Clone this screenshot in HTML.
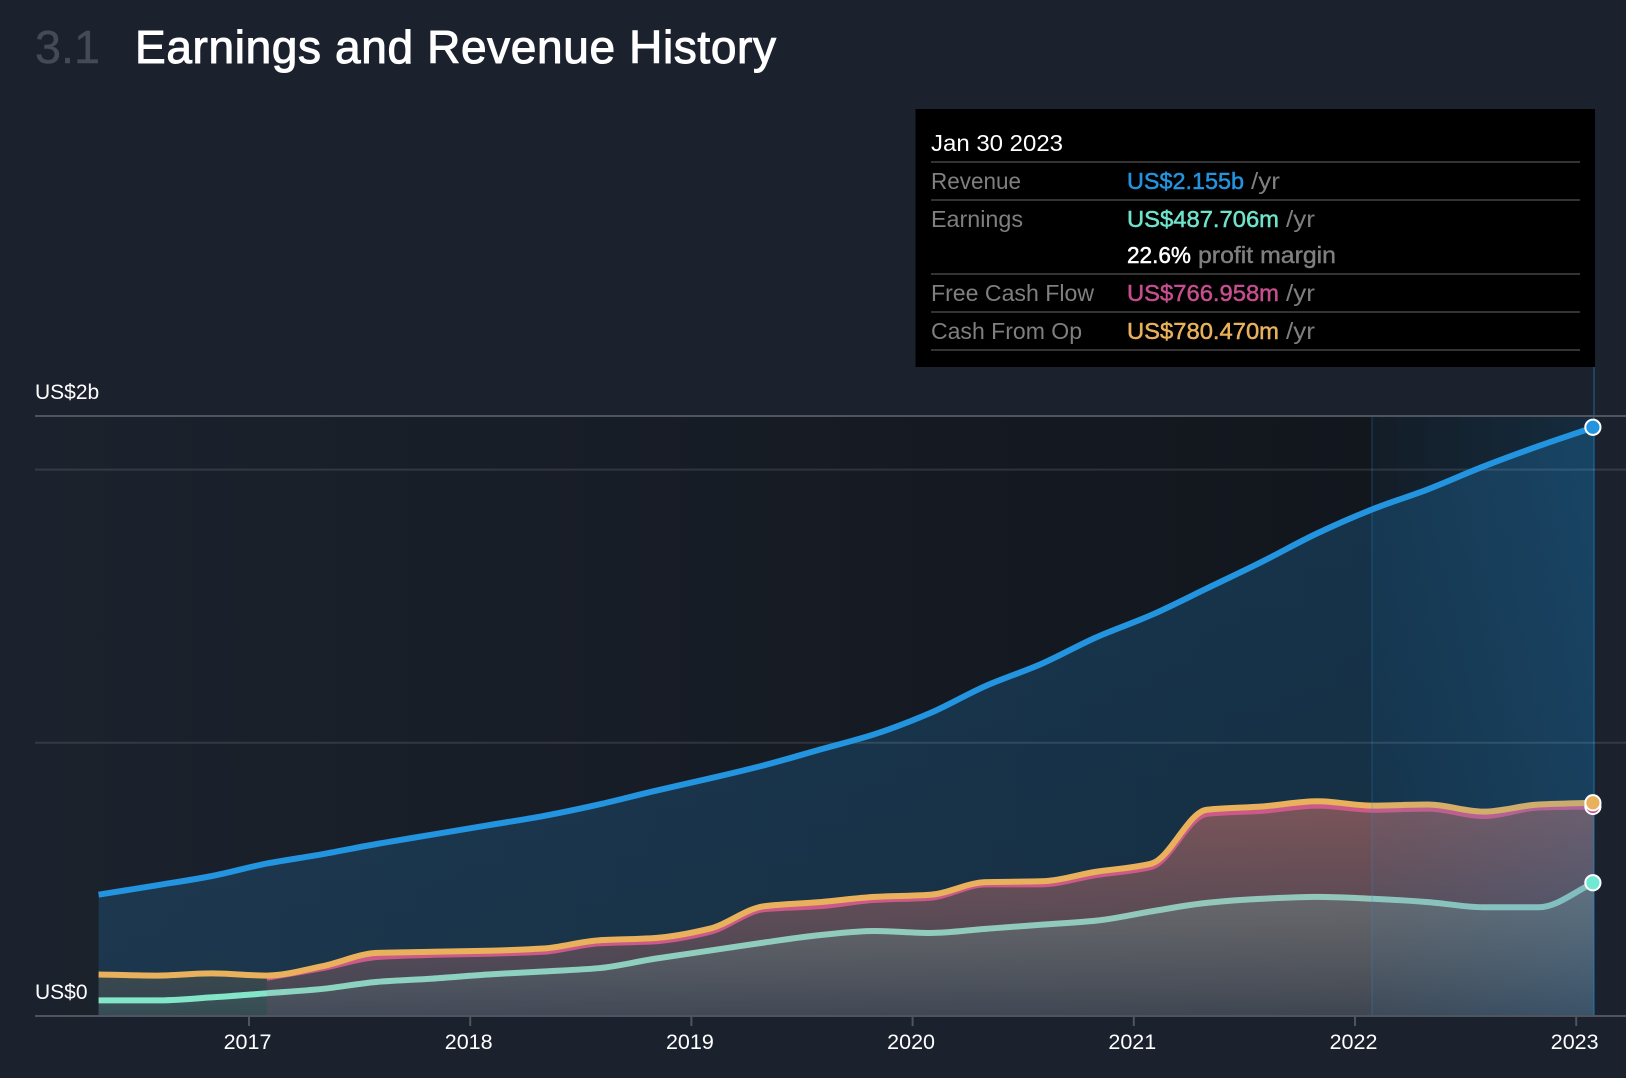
<!DOCTYPE html>
<html lang="en">
<head>
<meta charset="utf-8">
<title>Earnings and Revenue History</title>
<style>
html,body{margin:0;padding:0;background:#1b222d;width:1626px;height:1078px;overflow:hidden}
svg{display:block;font-family:"Liberation Sans",Arial,sans-serif}
</style>
</head>
<body>
<svg id="chart" width="1626" height="1078" viewBox="0 0 1626 1078" xmlns="http://www.w3.org/2000/svg">
  <defs>
    <linearGradient id="plotBg" gradientUnits="userSpaceOnUse" x1="35" y1="0" x2="1372" y2="0">
      <stop offset="0" stop-color="#1b222d"/><stop offset="1" stop-color="#12161d"/>
    </linearGradient>
    <linearGradient id="bandGrad" gradientUnits="userSpaceOnUse" x1="1372" y1="0" x2="1595" y2="0">
      <stop offset="0" stop-color="#2394df" stop-opacity="0.055"/><stop offset="1" stop-color="#2394df" stop-opacity="0.17"/>
    </linearGradient>
    <linearGradient id="revFill" gradientUnits="userSpaceOnUse" x1="0" y1="420" x2="0" y2="1016">
      <stop offset="0" stop-color="#2394df" stop-opacity="0.24"/><stop offset="1" stop-color="#2394df" stop-opacity="0.18"/>
    </linearGradient>
    <linearGradient id="cashFill" gradientUnits="userSpaceOnUse" x1="0" y1="800" x2="0" y2="1016">
      <stop offset="0" stop-color="#e9b15b" stop-opacity="0.3"/><stop offset="1" stop-color="#e9b15b" stop-opacity="0.11"/>
    </linearGradient>
    <linearGradient id="earnFill" gradientUnits="userSpaceOnUse" x1="0" y1="850" x2="0" y2="1016">
      <stop offset="0" stop-color="#6ee6c8" stop-opacity="0.3"/><stop offset="1" stop-color="#6ee6c8" stop-opacity="0.05"/>
    </linearGradient>
    <linearGradient id="fcfFill" gradientUnits="userSpaceOnUse" x1="0" y1="800" x2="0" y2="1016">
      <stop offset="0" stop-color="#d2507a" stop-opacity="0.3"/><stop offset="1" stop-color="#c64e8e" stop-opacity="0.1"/>
    </linearGradient>
  </defs>

  <rect x="0" y="0" width="1626" height="1078" fill="#1b222d"/>

  <text x="35" y="63" font-size="46" fill="#454b56" stroke="#454b56" stroke-width="0.4" textLength="65" lengthAdjust="spacingAndGlyphs">3.1</text>
  <text x="135" y="63" font-size="46" fill="#ffffff" stroke="#ffffff" stroke-width="1" textLength="641" lengthAdjust="spacing">Earnings and Revenue History</text>

  <rect x="35" y="416" width="1337" height="600" fill="url(#plotBg)"/>
  <rect x="1372" y="416" width="223" height="600" fill="#12161d"/>

  <g id="areas"></g>
  <rect x="1372" y="416" width="223" height="600" fill="url(#bandGrad)"/>
  <rect x="1371" y="416" width="2" height="600" fill="#2394df" fill-opacity="0.16"/>
  <rect x="1593" y="367" width="2" height="649" fill="#2394df" fill-opacity="0.3"/>
  <g id="axes"></g>
  <g id="top-lines"></g>
  <g id="dots"></g>

  <g>
    <rect x="915.5" y="109" width="679.5" height="258" fill="#000000"/>
    <text x="931" y="151" font-size="23.5" fill="#ffffff" textLength="132" lengthAdjust="spacingAndGlyphs">Jan 30 2023</text>
    <rect x="931" y="161" width="649" height="2" fill="#333333"/>
    <text x="931" y="189" font-size="23.5" fill="#7f7f7f" textLength="90" lengthAdjust="spacingAndGlyphs">Revenue</text>
    <text x="1127" y="189" font-size="23.5" fill="#2394df" stroke="#2394df" stroke-width="0.5" textLength="117" lengthAdjust="spacingAndGlyphs">US$2.155b</text>
    <text x="1251" y="189" font-size="23.5" fill="#7f7f7f" textLength="29" lengthAdjust="spacingAndGlyphs">/yr</text>
    <rect x="931" y="199" width="649" height="2" fill="#333333"/>
    <text x="931" y="227" font-size="23.5" fill="#7f7f7f" textLength="92" lengthAdjust="spacingAndGlyphs">Earnings</text>
    <text x="1127" y="227" font-size="23.5" fill="#6fe3cb" stroke="#6fe3cb" stroke-width="0.5" textLength="152" lengthAdjust="spacingAndGlyphs">US$487.706m</text>
    <text x="1286" y="227" font-size="23.5" fill="#7f7f7f" textLength="29" lengthAdjust="spacingAndGlyphs">/yr</text>
    <text x="1127" y="263" font-size="23.5" fill="#ffffff" stroke="#ffffff" stroke-width="0.5" textLength="64" lengthAdjust="spacingAndGlyphs">22.6%</text>
    <text x="1198" y="263" font-size="23.5" fill="#7f7f7f" stroke="#7f7f7f" stroke-width="0.4" textLength="138" lengthAdjust="spacingAndGlyphs">profit margin</text>
    <rect x="931" y="273" width="649" height="2" fill="#333333"/>
    <text x="931" y="301" font-size="23.5" fill="#7f7f7f" textLength="163" lengthAdjust="spacingAndGlyphs">Free Cash Flow</text>
    <text x="1127" y="301" font-size="23.5" fill="#c64e8e" stroke="#c64e8e" stroke-width="0.5" textLength="152" lengthAdjust="spacingAndGlyphs">US$766.958m</text>
    <text x="1286" y="301" font-size="23.5" fill="#7f7f7f" textLength="29" lengthAdjust="spacingAndGlyphs">/yr</text>
    <rect x="931" y="311" width="649" height="2" fill="#333333"/>
    <text x="931" y="339" font-size="23.5" fill="#7f7f7f" textLength="151" lengthAdjust="spacingAndGlyphs">Cash From Op</text>
    <text x="1127" y="339" font-size="23.5" fill="#e9b15b" stroke="#e9b15b" stroke-width="0.5" textLength="152" lengthAdjust="spacingAndGlyphs">US$780.470m</text>
    <text x="1286" y="339" font-size="23.5" fill="#7f7f7f" textLength="29" lengthAdjust="spacingAndGlyphs">/yr</text>
    <rect x="931" y="349" width="649" height="2" fill="#333333"/>
  </g>
</svg>

<script>
const dates = [2016.32,2016.58,2016.83,2017.08,2017.33,2017.58,2017.83,2018.08,2018.33,2018.58,2018.83,2019.08,2019.33,2019.58,2019.83,2020.08,2020.33,2020.58,2020.83,2021.08,2021.33,2021.58,2021.83,2022.08,2022.33,2022.58,2022.83,2023.08];
const revenue = [444,478,512,558,592,630,664,698,732,774,823,869,918,975,1032,1109,1208,1288,1386,1468,1565,1663,1767,1855,1928,2011,2086,2155];
const cashFromOp = [152,148,156,148,182,231,235,239,247,277,285,319,402,417,436,444,490,493,528,558,755,767,786,770,774,748,774,780.47];
const fcfDates = [2017.08,2017.33,2017.58,2017.83,2018.08,2018.33,2018.58,2018.83,2019.08,2019.33,2019.58,2019.83,2020.08,2020.33,2020.58,2020.83,2021.08,2021.33,2021.58,2021.83,2022.08,2022.33,2022.58,2022.83,2023.08];
const freeCashFlow = [140,175,216,224,228,235,266,273,307,391,402,425,433,482,482,516,546,740,751,770,755,759,732,763,766.958];
const earnings = [57,57,68,83,99,125,137,152,163,175,209,239,269,296,311,304,319,334,349,383,414,429,436,429,417,398,398,487.706];
const yearTicks = [2017,2018,2019,2020,2021,2022,2023];
const gridValues = [2196,2000,1000,0];
const yLabels = ["US$2b","US$0"];

const NS = "http://www.w3.org/2000/svg";
function xScale(t){ return 249 + (t - 2017) * 221.2; }
function yScale(v){ return 1016 - v * 0.2732; }

function make(tag, attrs, parent){
  const el = document.createElementNS(NS, tag);
  for (const k in attrs) el.setAttribute(k, attrs[k]);
  parent.appendChild(el);
  return el;
}

// Monotone-X cubic path through the points
function monotonePath(xs, ys){
  const n = xs.length, d = [], m = [];
  for (let i = 0; i < n - 1; i++) d.push((ys[i+1]-ys[i])/(xs[i+1]-xs[i]));
  m[0] = d[0]; m[n-1] = d[n-2];
  for (let i = 1; i < n - 1; i++){
    m[i] = d[i-1]*d[i] <= 0 ? 0 : 2*d[i-1]*d[i]/(d[i-1]+d[i]);
  }
  let p = "M" + xs[0].toFixed(2) + "," + ys[0].toFixed(2);
  for (let i = 0; i < n - 1; i++){
    const h = (xs[i+1]-xs[i])/3;
    p += "C" + (xs[i]+h).toFixed(2) + "," + (ys[i]+m[i]*h).toFixed(2) + " " +
         (xs[i+1]-h).toFixed(2) + "," + (ys[i+1]-m[i+1]*h).toFixed(2) + " " +
         xs[i+1].toFixed(2) + "," + ys[i+1].toFixed(2);
  }
  return p;
}
function seriesPath(ds, vs){ return monotonePath(ds.map(xScale), vs.map(yScale)); }
function areaPath(ds, vs){
  const xs = ds.map(xScale);
  return seriesPath(ds, vs) + "L" + xs[xs.length-1].toFixed(2) + ",1016L" + xs[0].toFixed(2) + ",1016Z";
}

const areas = document.getElementById("areas");
const axes = document.getElementById("axes");
const topLines = document.getElementById("top-lines");
const dots = document.getElementById("dots");

const revArea = make("path", {d: areaPath(dates, revenue), fill: "url(#revFill)"}, areas);



const cashArea = make("path", {d: areaPath(dates, cashFromOp), fill: "url(#cashFill)"}, areas);



const earnArea = make("path", {d: areaPath(dates, earnings), fill: "url(#earnFill)"}, areas);



const earnLine = make("path", {d: seriesPath(dates, earnings), fill: "none", stroke: "#84e6c8", "stroke-width": 6}, areas);



const fcfArea = make("path", {d: areaPath(fcfDates, freeCashFlow), fill: "url(#fcfFill)"}, areas);



const fcfLine = make("path", {d: seriesPath(fcfDates, freeCashFlow), fill: "none", stroke: "#cb5a88", "stroke-width": 6}, areas);



const cashLine = make("path", {d: seriesPath(dates, cashFromOp), fill: "none", stroke: "#e9b15b", "stroke-width": 6}, areas);



gridValues.forEach(function(v, i){
  const strong = i === 0 || v === 0;
  const y = yScale(v);
  const line = make("line", {x1: 35, x2: 1626, y1: y, y2: y,
    stroke: strong ? "#4f555f" : "#ffffff",
    "stroke-opacity": strong ? 1 : 0.11,
    "stroke-width": 2}, axes);
  
  
});

yearTicks.forEach(function(yr){
  const x = xScale(yr);
  const tick = make("rect", {x: x - 1, y: 1016, width: 2, height: 10, fill: "#4f555f"}, axes);
  
  
  const label = make("text", {x: x - 1.5, y: 1049, "font-size": 21.5, fill: "#ffffff", "text-anchor": "middle"}, axes);
  
  
  label.textContent = String(yr);
});

const topLabel = make("text", {x: 35, y: 399, "font-size": 21, fill: "#ffffff"}, axes);


topLabel.textContent = yLabels[0];

const zeroLabel = make("text", {x: 35, y: 999, "font-size": 21, fill: "#ffffff"}, axes);


zeroLabel.textContent = yLabels[1];

const revLine = make("path", {d: seriesPath(dates, revenue), fill: "none", stroke: "#2394df", "stroke-width": 6}, topLines);



function lastOf(a){ return a[a.length - 1]; }
const dotX = xScale(lastOf(dates)) - 1;

const fcfDot = make("circle", {cx: dotX, cy: yScale(lastOf(freeCashFlow)), r: 7.6, fill: "#c64e8e", stroke: "#ffffff", "stroke-width": 2}, dots);



const cashDot = make("circle", {cx: dotX, cy: yScale(lastOf(cashFromOp)), r: 7.6, fill: "#e9b15b", stroke: "#ffffff", "stroke-width": 2}, dots);



const earnDot = make("circle", {cx: dotX, cy: yScale(lastOf(earnings)), r: 7.6, fill: "#6fe9d3", stroke: "#ffffff", "stroke-width": 2}, dots);



const revDot = make("circle", {cx: dotX, cy: yScale(lastOf(revenue)), r: 7.6, fill: "#2394df", stroke: "#ffffff", "stroke-width": 2}, dots);


</script>
</body>
</html>
